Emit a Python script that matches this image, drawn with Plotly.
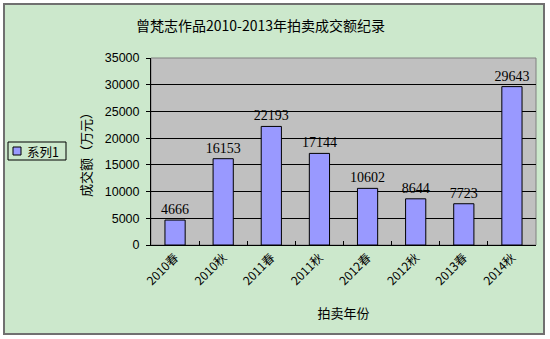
import plotly.graph_objects as go

categories = ["2010春", "2010秋", "2011春", "2011秋", "2012春", "2012秋", "2013春", "2014秋"]
values = [4666, 16153, 22193, 17144, 10602, 8644, 7723, 29643]
series_name = "系列1"
title_text = "曾梵志作品2010-2013年拍卖成交额纪录"
x_title = "拍卖年份"
y_title = "成交额（万元）"
y_ticks = [0, 5000, 10000, 15000, 20000, 25000, 30000, 35000]

W, H = 550, 339
L, R, T, B = 151, 14, 58, 94
pw, ph = W - L - R, H - T - B

def px(x):
    return (x - L) / pw

def py(y):
    return (H - B - y) / ph

cjk = "Noto Sans CJK SC, Liberation Sans, sans-serif"
serif = "Liberation Serif, Noto Sans CJK SC, serif"
bar_color = "#9999FF"

fig = go.Figure()
fig.add_trace(go.Bar(
    x=categories, y=values, name=series_name,
    marker=dict(color=bar_color, line=dict(color="#000000", width=1)),
    text=[str(v) for v in values], textposition="outside",
    constraintext="none",
    textfont=dict(family=serif, size=14, color="#000000"),
    cliponaxis=False, showlegend=False,
))

fig.update_layout(
    width=W, height=H,
    margin=dict(l=L, r=R, t=T, b=B, autoexpand=False),
    paper_bgcolor="#FFFFFF",
    plot_bgcolor="#C0C0C0",
    bargap=0.58,
    showlegend=False,
    font=dict(family=cjk, size=12, color="#000000"),
    xaxis=dict(
        type="category", tickangle=-45, ticks="inside", tickson="boundaries",
        ticklen=4, tickcolor="#000000", showgrid=False,
        showline=True, linecolor="#000000", linewidth=1,
        tickfont=dict(family=cjk, size=12),
        title=dict(text=x_title, font=dict(family=cjk, size=13), standoff=21),
    ),
    yaxis=dict(
        range=[0, 35000], tickvals=y_ticks, ticktext=[str(v) for v in y_ticks],
        ticks="outside", ticklen=4, ticklabelstandoff=4,
        tickcolor="#000000", showgrid=True, gridcolor="#000000", gridwidth=1,
        showline=True, linecolor="#000000", linewidth=1, zeroline=False,
        tickfont=dict(family="Liberation Sans, sans-serif", size=12.5),
        title=dict(text=y_title, font=dict(family=cjk, size=13), standoff=10),
    ),
    shapes=[
        dict(type="rect", xref="paper", yref="paper", layer="below",
             x0=px(4), x1=px(544), y0=py(334), y1=py(4),
             fillcolor="#CCE8CC", line=dict(color="#707070", width=2)),
        dict(type="rect", xref="paper", yref="paper", layer="below",
             x0=0, x1=1, y0=0, y1=1,
             fillcolor="#C0C0C0", line=dict(color="#808080", width=1)),
        # legend box
        dict(type="rect", xref="paper", yref="paper",
             x0=px(8), x1=px(66), y0=py(160), y1=py(142),
             fillcolor="#CCE8CC", line=dict(color="#000000", width=1)),
        # legend swatch
        dict(type="rect", xref="paper", yref="paper",
             x0=px(13), x1=px(21), y0=py(155), y1=py(147),
             fillcolor=bar_color, line=dict(color="#000000", width=1)),
    ],
    annotations=[
        dict(text=title_text, xref="paper", yref="paper", x=px(260), y=py(25),
             xanchor="center", yanchor="middle", showarrow=False,
             font=dict(family=cjk, size=14, color="#000000")),
        dict(text=series_name, xref="paper", yref="paper", x=px(25), y=py(151),
             xanchor="left", yanchor="middle", showarrow=False,
             font=dict(family=cjk, size=12.5, color="#000000")),
    ],
)

fig.write_html("out.html")
